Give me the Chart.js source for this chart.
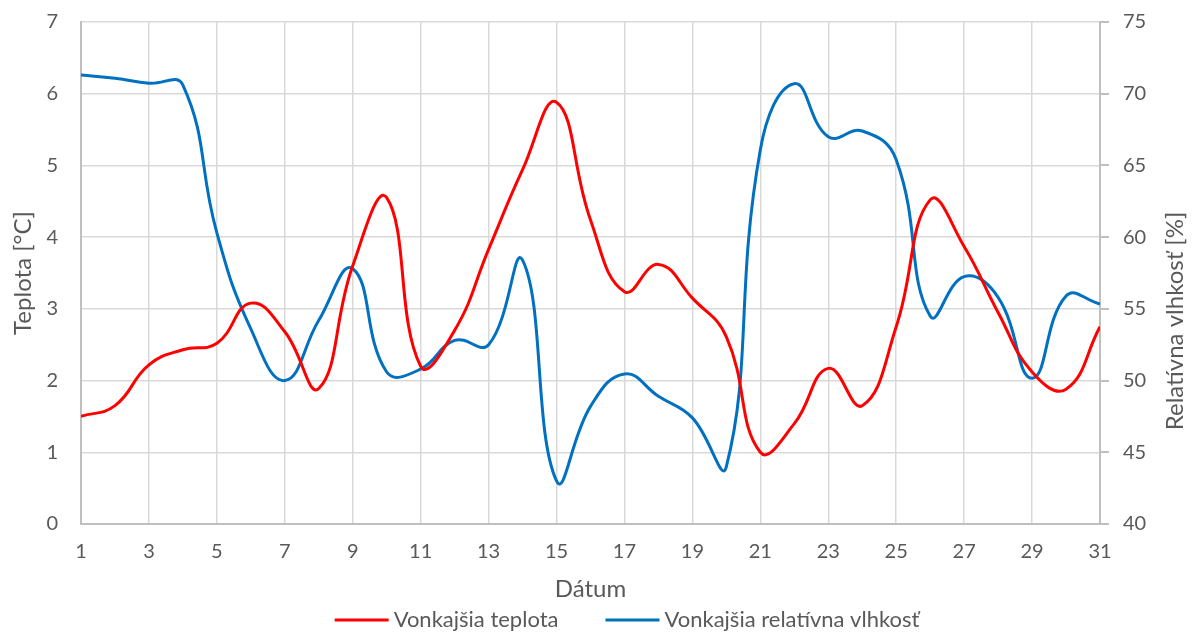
<!DOCTYPE html>
<html>
<head>
<meta charset="utf-8">
<script src="https://cdn.jsdelivr.net/npm/chart.js@4"></script>
<style>
  html, body { margin: 0; padding: 0; background: #ffffff; }
  #wrap { width: 1196px; height: 635px; position: relative; }
</style>
</head>
<body>
<div id="wrap"><canvas id="c" width="1196" height="635"></canvas></div>
<script>
// ---- data ----
const days = [1,2,3,4,5,6,7,8,9,10,11,12,13,14,15,16,17,18,19,20,21,22,23,24,25,26,27,28,29,30,31];
const temperature = [1.50, 1.65, 2.22, 2.43, 2.52, 3.08, 2.68, 1.89, 3.60, 4.55, 2.20, 2.70, 3.83, 4.94, 5.88, 4.24, 3.24, 3.62, 3.15, 2.61, 1.00, 1.40, 2.17, 1.65, 2.75, 4.52, 3.87, 2.95, 2.12, 1.88, 2.75];
const humidity = [71.3, 71.08, 70.73, 70.6, 60.3, 53.6, 50.0, 54.2, 57.8, 50.6, 50.8, 52.8, 52.5, 58.4, 43.0, 48.2, 50.46, 48.9, 47.4, 44.0, 66.1, 70.7, 67.0, 67.4, 65.4, 54.5, 57.25, 55.8, 50.16, 55.9, 55.34];
const seriesNames = ['Vonkajšia teplota', 'Vonkajšia relatívna vlhkosť'];
const seriesColors = ['#ff0000', '#0070c0'];
const xTitle = 'Dátum';
const yTitle = 'Teplota [°C]';
const y1Title = 'Relatívna vlhkosť [%]';

const FONT = 'Lato';
const TXT = '#595959';
const GRID = '#d9d9d9';
const AXIS = '#bfbfbf';

const extras = {
  id: 'extras',
  afterDraw(chart) {
    const ctx = chart.ctx;
    ctx.save();
    // right axis title (reads bottom-to-top)
    ctx.fillStyle = TXT;
    ctx.font = '24px ' + FONT;
    ctx.textAlign = 'center';
    ctx.textBaseline = 'middle';
    ctx.translate(1175, 321);
    ctx.rotate(-Math.PI / 2);
    ctx.fillText(y1Title, 0, 0);
    ctx.restore();

    // legend
    ctx.save();
    ctx.font = '22px ' + FONT;
    ctx.textBaseline = 'middle';
    ctx.textAlign = 'left';
    const lineW = 54, gapT = 5, gapItem = 47;
    const w0 = ctx.measureText(seriesNames[0]).width;
    const w1 = ctx.measureText(seriesNames[1]).width;
    const total = lineW + gapT + w0 + gapItem + lineW + gapT + w1;
    let x = 627 - total / 2;
    const y = 620;
    [0, 1].forEach(i => {
      ctx.strokeStyle = seriesColors[i];
      ctx.lineWidth = 3;
      ctx.beginPath();
      ctx.moveTo(x, y);
      ctx.lineTo(x + lineW, y);
      ctx.stroke();
      x += lineW + gapT;
      ctx.fillStyle = TXT;
      ctx.fillText(seriesNames[i], x, y);
      x += (i === 0 ? w0 : w1) + gapItem;
    });
    ctx.restore();
  }
};

new Chart(document.getElementById('c'), {
  type: 'line',
  data: {
    datasets: [
      {
        label: seriesNames[0],
        data: days.map((d, i) => ({ x: d, y: temperature[i] })),
        borderColor: seriesColors[0],
        backgroundColor: seriesColors[0],
        borderWidth: 3,
        pointRadius: 0,
        tension: 0.45,
        yAxisID: 'y'
      },
      {
        label: seriesNames[1],
        data: days.map((d, i) => ({ x: d, y: humidity[i] })),
        borderColor: seriesColors[1],
        backgroundColor: seriesColors[1],
        borderWidth: 3,
        pointRadius: 0,
        tension: 0.45,
        yAxisID: 'y1'
      }
    ]
  },
  options: {
    responsive: false,
    animation: false,
    events: [],
    layout: { padding: { top: 22, left: 0, right: 0, bottom: 30 } },
    plugins: { legend: { display: false }, tooltip: { enabled: false } },
    scales: {
      x: {
        type: 'linear',
        min: 1, max: 31,
        afterFit: s => { s.height = 81; s.paddingLeft = 0; s.paddingRight = 0; },
        ticks: { stepSize: 2, color: TXT, font: { family: FONT, size: 20 }, padding: 16, maxRotation: 0 },
        grid: { color: GRID, lineWidth: 1.5, drawTicks: false },
        border: { color: AXIS, width: 2 },
        title: { display: true, text: xTitle, color: TXT, font: { family: FONT, size: 24 }, padding: { top: 0, bottom: 1 } }
      },
      y: {
        position: 'left',
        min: 0, max: 7,
        afterFit: s => { s.width = 81; s.paddingTop = 0; s.paddingBottom = 0; },
        ticks: { stepSize: 1, color: TXT, font: { family: FONT, size: 20 }, padding: 23 },
        grid: { color: GRID, lineWidth: 1.5, drawTicks: false },
        border: { color: AXIS, width: 2 },
        title: { display: true, text: yTitle, color: TXT, font: { family: FONT, size: 24 }, padding: { top: 9, bottom: 0 } }
      },
      y1: {
        position: 'right',
        min: 40, max: 75,
        afterFit: s => { s.width = 96; s.paddingTop = 0; s.paddingBottom = 0; },
        ticks: { stepSize: 5, color: TXT, font: { family: FONT, size: 20 }, padding: 14 },
        grid: { drawOnChartArea: false, color: AXIS, lineWidth: 2, drawTicks: true, tickLength: 9 },
        border: { color: AXIS, width: 2 }
      }
    }
  },
  plugins: [extras]
});
</script>
</body>
</html>
